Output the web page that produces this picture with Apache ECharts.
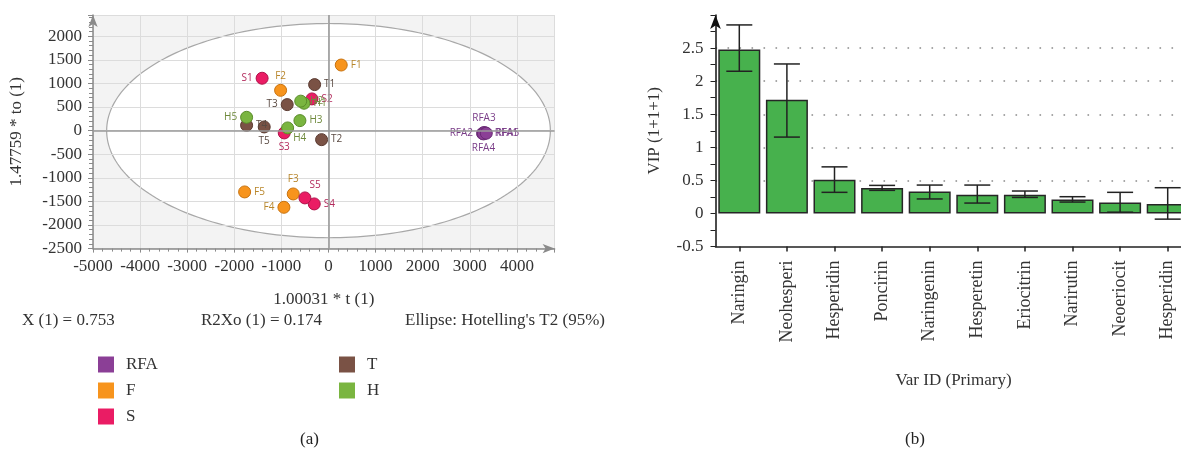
<!DOCTYPE html>
<html><head><meta charset="utf-8">
<script src="https://cdn.jsdelivr.net/npm/echarts@6/dist/echarts.min.js"></script>
<style>html,body{margin:0;padding:0;background:#fff}#c{width:1181px;height:458px}</style>
</head><body><div id="c"></div><script>
// ---------- data: (a) OPLS-DA score plot ----------
const groupNames = ['RFA', 'F', 'S', 'T', 'H'];
const rfaPoints = [[3330, -50, 'RFA1'], [3270, -60, 'RFA2'], [3300, -40, 'RFA3'], [3290, -70, 'RFA4'], [3350, -55, 'RFA5']];
const fPoints = [[270, 1390, 'F1'], [-1017, 854, 'F2'], [-749, -1342, 'F3'], [-947, -1625, 'F4'], [-1781, -1299, 'F5']];
const sPoints = [[-1410, 1110, 'S1'], [-352, 672, 'S2'], [-940, -49, 'S3'], [-303, -1553, 'S4'], [-501, -1426, 'S5']];
const tPoints = [[-295, 975, 'T1'], [-147, -191, 'T2'], [-877, 551, 'T3'], [-1739, 112, 'T4'], [-1365, 78, 'T5']];
const hPoints = [[-520, 580, 'H1'], [-590, 625, 'H2'], [-607, 212, 'H3'], [-868, 57, 'H4'], [-1739, 282, 'H5']];
const ellipseCenter = [0, 0];
const ellipseRadii = [4710, 2270];
const scoreXRange = [-5000, 4800];
const scoreYRange = [-2500, 2450];
const statTexts = ['X (1) = 0.753', 'R2Xo (1) = 0.174', "Ellipse: Hotelling's T2 (95%)"];

// ---------- data: (b) VIP plot ----------
const varIds = ['Naringin', 'Neohesperi', 'Hesperidin', 'Poncirin', 'Naringenin', 'Hesperetin', 'Eriocitrin', 'Narirutin', 'Neoeriocit', 'Hesperidin'];
const vipValues = [2.48, 1.72, 0.51, 0.386, 0.334, 0.284, 0.284, 0.213, 0.167, 0.143];
const vipLow = [2.15, 1.155, 0.32, 0.35, 0.22, 0.158, 0.243, 0.173, 0.02, -0.085];
const vipHigh = [2.85, 2.26, 0.705, 0.425, 0.43, 0.43, 0.34, 0.254, 0.32, 0.39];
const vipRange = [-0.5, 3];

// ---------- styles ----------
const SERIF = "'Liberation Serif','Times New Roman',serif";
const SANS = "'Open Sans','Noto Sans',sans-serif";
const groupStyle = {
  RFA: {fill: '#8b3f96', border: '#6a2a75', text: '#7a3d88'},
  F:   {fill: '#f7941d', border: '#c8730f', text: '#b8862b'},
  S:   {fill: '#ea1c64', border: '#b0124a', text: '#b32a5c'},
  T:   {fill: '#7a5245', border: '#5a3a30', text: '#5a4a42'},
  H:   {fill: '#7ab540', border: '#5a8c2a', text: '#6f8a3c'}
};
const labelPos = {F2: 'top', F3: 'top', S1: 'left', T3: 'left', H5: 'left', F4: 'left',
  RFA2: 'left', RFA3: 'top', RFA4: 'bottom', T5: 'bottom', S3: 'bottom', H4: [12, 12], S5: [11, -11]};
const groupData = {RFA: rfaPoints, F: fPoints, S: sPoints, T: tPoints, H: hPoints};

const scatterSeries = groupNames.map((g, gi) => ({
  name: g, type: 'scatter', xAxisIndex: 0, yAxisIndex: 0, symbolSize: 12, z: 3,
  itemStyle: {color: groupStyle[g].fill, borderColor: groupStyle[g].border, borderWidth: 1, opacity: 1},
  label: {show: true, position: 'right', distance: 3, color: groupStyle[g].text, fontSize: 10, fontFamily: SANS},
  emphasis: {disabled: true},
  data: groupData[g].map(p => ({
    value: [p[0], p[1]], name: p[2],
    label: {formatter: p[2], position: labelPos[p[2]] || 'right'}
  })),
  markLine: gi === 0 ? {
    silent: true, symbol: 'none', label: {show: false}, animation: false,
    lineStyle: {color: '#9a9a9a', width: 1.6, type: 'solid'},
    data: [{xAxis: 0}, {yAxis: 0}]
  } : undefined
}));

const ellipseSeries = {
  type: 'custom', xAxisIndex: 0, yAxisIndex: 0, z: -1, silent: true, animation: false,
  data: [ellipseCenter],
  renderItem(params, api) {
    const cs = params.coordSys;
    const pts = [];
    for (let k = 0; k <= 240; k++) {
      const t = k / 240 * Math.PI * 2;
      pts.push(api.coord([api.value(0) + ellipseRadii[0] * Math.cos(t), api.value(1) + ellipseRadii[1] * Math.sin(t)]));
    }
    return {type: 'group', children: [
      {type: 'rect', shape: {x: cs.x, y: cs.y, width: cs.width, height: cs.height}, style: {fill: '#f3f3f3'}},
      {type: 'polygon', shape: {points: pts}, style: {fill: '#ffffff', stroke: '#a8a8a8', lineWidth: 1.2}}
    ]};
  }
};

const barSeries = {
  name: 'VIP', type: 'bar', xAxisIndex: 1, yAxisIndex: 1, barWidth: 42, z: 2,
  itemStyle: {color: '#47b14d', borderColor: '#262626', borderWidth: 1.5},
  emphasis: {disabled: true},
  data: vipValues
};
const errSeries = {
  type: 'custom', xAxisIndex: 1, yAxisIndex: 1, z: 4, silent: true,
  encode: {x: 0, y: [1, 2]},
  data: vipValues.map((v, i) => [i, vipLow[i], vipHigh[i]]),
  renderItem(params, api) {
    const x = api.value(0);
    const lo = api.coord([x, api.value(1)]);
    const hi = api.coord([x, api.value(2)]);
    const hw = 13;
    const st = {stroke: '#222', lineWidth: 1.5};
    return {type: 'group', children: [
      {type: 'line', shape: {x1: hi[0], y1: hi[1], x2: lo[0], y2: lo[1]}, style: st},
      {type: 'line', shape: {x1: hi[0] - hw, y1: hi[1], x2: hi[0] + hw, y2: hi[1]}, style: st},
      {type: 'line', shape: {x1: lo[0] - hw, y1: lo[1], x2: lo[0] + hw, y2: lo[1]}, style: st}
    ]};
  }
};

const gridDotColors = ['transparent', 'transparent', '#8a8a8a', '#8a8a8a', '#8a8a8a', '#8a8a8a', '#8a8a8a', 'transparent'];
const plainNum = v => String(v);
const legendCommon = {orient: 'vertical', top: 351, icon: 'rect', itemWidth: 16, itemHeight: 16, itemGap: 9,
  selectedMode: false, itemStyle: {borderWidth: 0},
  textStyle: {fontFamily: SERIF, fontSize: 17, color: '#333', padding: [0, 0, 0, 7]}};

const option = {
  animation: false,
  backgroundColor: '#ffffff',
  grid: [
    {left: 93, top: 15, width: 461.6, height: 233.6, outerBoundsMode: 'none', containLabel: false},
    {left: 715.5, top: 15, width: 476, height: 231.6, outerBoundsMode: 'none', containLabel: false}
  ],
  xAxis: [
    {type: 'value', gridIndex: 0, min: scoreXRange[0], max: scoreXRange[1], interval: 1000,
      name: '1.00031 * t (1)', nameLocation: 'middle', nameGap: 42,
      nameTextStyle: {fontFamily: SERIF, fontSize: 17, color: '#333'},
      axisLine: {onZero: false, show: true, symbol: ['none', 'arrow'], symbolSize: [7, 12], lineStyle: {color: '#8a8a8a', width: 1.5}},
      axisTick: {show: true, length: 4, lineStyle: {color: '#8a8a8a'}},
      minorTick: {show: true, splitNumber: 5, length: 3, lineStyle: {color: '#8a8a8a'}},
      splitLine: {show: true, lineStyle: {color: '#dcdcdc', width: 1}},
      axisLabel: {fontFamily: SERIF, fontSize: 17, color: '#333', margin: 9, showMaxLabel: false, formatter: plainNum}
    },
    {type: 'category', gridIndex: 1, data: varIds,
      name: 'Var ID (Primary)', nameLocation: 'middle', nameGap: 125,
      nameTextStyle: {fontFamily: SERIF, fontSize: 17, color: '#333'},
      axisLine: {onZero: false, lineStyle: {color: '#222', width: 1.5}},
      axisTick: {show: true, alignWithLabel: true, length: 5, lineStyle: {color: '#222', width: 1.5}},
      axisLabel: {rotate: 90, interval: 0, fontFamily: SERIF, fontSize: 18, color: '#333', margin: 14},
      splitLine: {show: false}
    }
  ],
  yAxis: [
    {type: 'value', gridIndex: 0, min: scoreYRange[0], max: scoreYRange[1], interval: 500,
      name: '1.47759 * to (1)', nameLocation: 'middle', nameGap: 68, nameRotate: 90,
      nameTextStyle: {fontFamily: SERIF, fontSize: 17, color: '#333'},
      axisLine: {onZero: false, show: true, symbol: ['none', 'arrow'], symbolSize: [7, 12], lineStyle: {color: '#8a8a8a', width: 1.5}},
      axisTick: {show: true, length: 5, lineStyle: {color: '#8a8a8a'}},
      minorTick: {show: true, splitNumber: 5, length: 4, lineStyle: {color: '#8a8a8a'}},
      splitLine: {show: true, lineStyle: {color: '#dcdcdc', width: 1}},
      axisLabel: {fontFamily: SERIF, fontSize: 17, color: '#333', margin: 11, showMaxLabel: false, formatter: plainNum}
    },
    {type: 'value', gridIndex: 1, min: vipRange[0], max: vipRange[1], interval: 0.5,
      name: 'VIP (1+1+1)', nameLocation: 'middle', nameGap: 52, nameRotate: 90,
      nameTextStyle: {fontFamily: SERIF, fontSize: 17, color: '#333'},
      axisLine: {onZero: false, show: true, symbol: ['none', 'arrow'], symbolSize: [8, 14], lineStyle: {color: '#111', width: 1.5}},
      axisTick: {show: true, length: 5, lineStyle: {color: '#222'}},
      minorTick: {show: true, splitNumber: 2, length: 5, lineStyle: {color: '#222'}},
      splitLine: {show: true, lineStyle: {color: gridDotColors, width: 1.6, type: [1.6, 10.4]}},
      axisLabel: {fontFamily: SERIF, fontSize: 17, color: '#333', margin: 12, showMaxLabel: false, formatter: plainNum}
    }
  ],
  legend: [
    Object.assign({data: ['RFA', 'F', 'S'], left: 93}, legendCommon),
    Object.assign({data: ['T', 'H'], left: 334}, legendCommon)
  ],
  graphic: [
    {type: 'text', left: 22, top: 312, style: {text: statTexts[0], font: "17px 'Liberation Serif',serif", fill: '#333'}},
    {type: 'text', left: 201, top: 312, style: {text: statTexts[1], font: "17px 'Liberation Serif',serif", fill: '#333'}},
    {type: 'text', left: 405, top: 312, style: {text: statTexts[2], font: "17px 'Liberation Serif',serif", fill: '#333'}},
    {type: 'text', left: 300, top: 431, style: {text: '(a)', font: "17px 'Liberation Serif',serif", fill: '#222'}},
    {type: 'text', left: 905, top: 431, style: {text: '(b)', font: "17px 'Liberation Serif',serif", fill: '#222'}}
  ],
  series: [ellipseSeries, ...scatterSeries, barSeries, errSeries]
};
const chart = echarts.init(document.getElementById('c'), null, {renderer: 'canvas'});
chart.setOption(option);
</script></body></html>
